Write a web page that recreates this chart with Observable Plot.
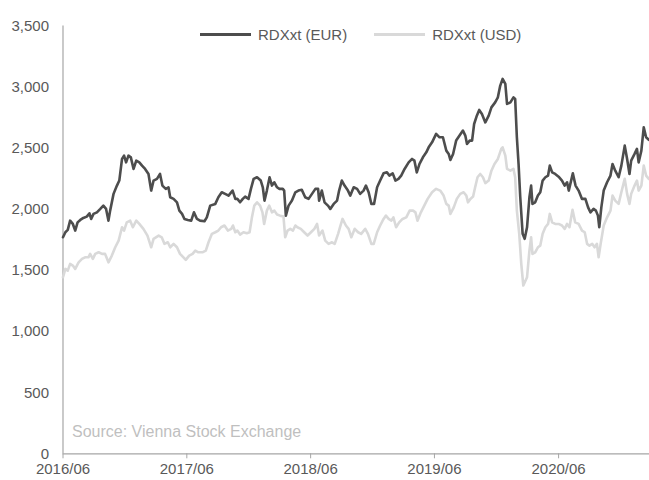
<!DOCTYPE html>
<html>
<head>
<meta charset="utf-8">
<script src="https://cdn.jsdelivr.net/npm/d3@7"></script>
<script src="https://cdn.jsdelivr.net/npm/@observablehq/plot@0.6"></script>
<style>
  html, body { margin: 0; padding: 0; background: #ffffff; }
  #wrap { position: relative; width: 649px; height: 480px; font-family: "Liberation Sans", Arial, sans-serif; }
  #legend { position: absolute; top: 26px; left: 200px; display: flex; align-items: center; font-size: 15px; color: #595959; white-space: nowrap; }
  .item { display: flex; align-items: center; margin-right: 27px; }
  .swatch { width: 51px; height: 3px; margin-right: 7px; }
  #source { position: absolute; left: 72px; top: 423px; font-size: 16px; color: #bfbfbf; white-space: nowrap; }
</style>
</head>
<body>
<div id="wrap">
  <div id="chart"></div>
  <div id="legend"></div>
  <div id="source">Source: Vienna Stock Exchange</div>
</div>
<script>
const seriesNames = ["RDXxt (EUR)", "RDXxt (USD)"];
const seriesColors = ["#4d4d4d", "#d9d9d9"];

const eurDates = ["2016-06-01","2016-06-08","2016-06-15","2016-06-22","2016-06-30","2016-07-07","2016-07-14","2016-07-22","2016-07-31","2016-08-10","2016-08-18","2016-08-23","2016-08-30","2016-09-09","2016-09-19","2016-09-28","2016-10-06","2016-10-13","2016-10-18","2016-10-28","2016-11-07","2016-11-14","2016-11-22","2016-11-28","2016-12-04","2016-12-11","2016-12-18","2016-12-26","2017-01-03","2017-01-12","2017-01-20","2017-01-29","2017-02-08","2017-02-16","2017-02-23","2017-03-05","2017-03-14","2017-03-21","2017-03-31","2017-04-08","2017-04-13","2017-04-23","2017-05-03","2017-05-10","2017-05-18","2017-05-25","2017-06-04","2017-06-14","2017-06-22","2017-07-01","2017-07-10","2017-07-23","2017-07-30","2017-08-09","2017-08-24","2017-09-02","2017-09-12","2017-09-22","2017-10-02","2017-10-14","2017-10-22","2017-10-28","2017-11-05","2017-11-13","2017-11-20","2017-11-30","2017-12-07","2017-12-15","2017-12-25","2018-01-05","2018-01-11","2018-01-16","2018-01-23","2018-01-31","2018-02-07","2018-02-14","2018-02-22","2018-03-01","2018-03-11","2018-03-15","2018-03-20","2018-03-28","2018-04-07","2018-04-17","2018-04-26","2018-05-06","2018-05-16","2018-05-26","2018-06-05","2018-06-15","2018-06-23","2018-06-26","2018-07-04","2018-07-12","2018-07-22","2018-07-29","2018-08-08","2018-08-18","2018-08-24","2018-09-01","2018-09-09","2018-09-19","2018-09-26","2018-10-06","2018-10-16","2018-10-25","2018-11-04","2018-11-11","2018-11-19","2018-11-27","2018-12-05","2018-12-14","2018-12-23","2019-01-02","2019-01-12","2019-01-19","2019-01-29","2019-02-06","2019-02-15","2019-02-23","2019-03-05","2019-03-17","2019-03-27","2019-04-03","2019-04-10","2019-04-18","2019-04-28","2019-05-08","2019-05-15","2019-05-25","2019-06-06","2019-06-16","2019-06-26","2019-07-06","2019-07-13","2019-07-18","2019-07-26","2019-08-04","2019-08-14","2019-08-24","2019-08-31","2019-09-05","2019-09-13","2019-09-20","2019-09-26","2019-10-04","2019-10-11","2019-10-19","2019-10-29","2019-11-08","2019-11-16","2019-11-27","2019-12-05","2019-12-12","2019-12-19","2019-12-27","2020-01-01","2020-01-11","2020-01-20","2020-01-25","2020-01-30","2020-02-04","2020-02-09","2020-02-16","2020-02-22","2020-02-29","2020-03-07","2020-03-12","2020-03-16","2020-03-24","2020-04-01","2020-04-08","2020-04-15","2020-04-23","2020-05-01","2020-05-06","2020-05-13","2020-05-22","2020-06-01","2020-06-11","2020-06-19","2020-06-26","2020-07-01","2020-07-13","2020-07-21","2020-07-30","2020-08-09","2020-08-19","2020-08-27","2020-09-03","2020-09-12","2020-09-19","2020-09-25","2020-09-29","2020-10-05","2020-10-12","2020-10-22","2020-11-01","2020-11-07","2020-11-15","2020-11-25","2020-12-03","2020-12-13","2020-12-20","2020-12-27","2021-01-01","2021-01-11","2021-01-18","2021-01-23","2021-01-31","2021-02-07","2021-02-14","2021-02-22"];
const eurValues = [1772,1813,1832,1908,1881,1827,1894,1914,1930,1941,1968,1922,1963,1976,2004,2031,2004,1908,1990,2127,2195,2236,2413,2440,2385,2440,2426,2331,2399,2385,2358,2331,2290,2154,2236,2250,2290,2195,2168,2181,2099,2086,2058,1990,1963,1922,1914,1908,1976,1922,1908,1903,1935,2031,2045,2099,2140,2127,2113,2154,2086,2086,2058,2086,2105,2086,2168,2250,2263,2236,2181,2072,2154,2263,2195,2222,2181,2168,2168,2154,1949,2031,2072,2140,2154,2160,2099,2086,2127,2168,2168,2072,2154,2058,2031,2004,2045,2072,2154,2236,2195,2154,2113,2181,2168,2127,2154,2195,2140,2045,2045,2181,2236,2295,2303,2277,2295,2236,2250,2277,2331,2385,2413,2399,2303,2372,2426,2467,2508,2549,2618,2590,2590,2481,2454,2405,2454,2563,2604,2645,2604,2536,2563,2563,2699,2767,2814,2781,2712,2767,2835,2876,2917,3013,3068,3027,2863,2876,2917,2904,2590,2372,2099,1800,1759,1854,2099,2195,2045,2058,2113,2140,2236,2263,2277,2358,2303,2290,2268,2236,2195,2222,2154,2295,2195,2154,2086,2086,2017,1976,2004,1990,1949,1854,2017,2154,2222,2277,2372,2317,2263,2358,2522,2413,2290,2399,2454,2495,2385,2481,2672,2590,2569];

const usdDates = ["2016-06-01","2016-06-08","2016-06-15","2016-06-22","2016-06-30","2016-07-07","2016-07-17","2016-07-27","2016-08-05","2016-08-15","2016-08-20","2016-08-28","2016-09-04","2016-09-14","2016-09-24","2016-10-03","2016-10-13","2016-10-23","2016-11-02","2016-11-12","2016-11-22","2016-11-28","2016-12-06","2016-12-16","2016-12-24","2017-01-03","2017-01-12","2017-01-24","2017-02-05","2017-02-16","2017-02-23","2017-03-10","2017-03-19","2017-03-27","2017-04-06","2017-04-13","2017-04-23","2017-05-03","2017-05-12","2017-05-22","2017-05-29","2017-06-08","2017-06-18","2017-06-26","2017-07-05","2017-07-17","2017-07-27","2017-08-04","2017-08-14","2017-08-24","2017-09-02","2017-09-10","2017-09-20","2017-09-30","2017-10-10","2017-10-15","2017-10-22","2017-10-28","2017-11-05","2017-11-15","2017-11-25","2017-12-03","2017-12-10","2017-12-17","2017-12-25","2018-01-03","2018-01-10","2018-01-15","2018-01-23","2018-01-30","2018-02-07","2018-02-14","2018-02-22","2018-03-03","2018-03-13","2018-03-18","2018-03-25","2018-04-02","2018-04-10","2018-04-17","2018-04-23","2018-05-03","2018-05-13","2018-05-23","2018-06-02","2018-06-12","2018-06-20","2018-06-26","2018-07-06","2018-07-14","2018-07-24","2018-08-03","2018-08-11","2018-08-21","2018-08-28","2018-09-03","2018-09-13","2018-09-21","2018-09-29","2018-10-09","2018-10-19","2018-10-28","2018-11-09","2018-11-17","2018-11-27","2018-12-04","2018-12-14","2018-12-23","2019-01-02","2019-01-09","2019-01-17","2019-01-25","2019-01-31","2019-02-08","2019-02-17","2019-02-27","2019-03-10","2019-03-20","2019-03-30","2019-04-06","2019-04-12","2019-04-22","2019-05-02","2019-05-12","2019-05-25","2019-06-06","2019-06-18","2019-06-28","2019-07-06","2019-07-13","2019-07-18","2019-07-28","2019-08-06","2019-08-16","2019-08-26","2019-09-03","2019-09-08","2019-09-15","2019-09-23","2019-09-29","2019-10-06","2019-10-14","2019-10-22","2019-10-29","2019-11-08","2019-11-16","2019-11-25","2019-12-05","2019-12-15","2019-12-19","2019-12-27","2020-01-01","2020-01-11","2020-01-20","2020-01-25","2020-01-30","2020-02-06","2020-02-12","2020-02-18","2020-02-29","2020-03-07","2020-03-12","2020-03-16","2020-03-24","2020-04-01","2020-04-08","2020-04-15","2020-04-23","2020-05-01","2020-05-06","2020-05-13","2020-05-22","2020-06-01","2020-06-11","2020-06-19","2020-06-26","2020-07-03","2020-07-12","2020-07-20","2020-07-30","2020-08-09","2020-08-17","2020-08-24","2020-08-31","2020-09-08","2020-09-15","2020-09-22","2020-09-27","2020-10-03","2020-10-12","2020-10-22","2020-11-01","2020-11-07","2020-11-15","2020-11-25","2020-12-03","2020-12-13","2020-12-20","2020-12-27","2021-01-01","2021-01-11","2021-01-18","2021-01-23","2021-01-31","2021-02-07","2021-02-14","2021-02-22"];
const usdValues = [1445,1513,1499,1554,1540,1513,1567,1595,1608,1608,1636,1595,1636,1649,1636,1636,1567,1622,1690,1745,1854,1827,1894,1908,1854,1908,1881,1841,1786,1690,1759,1786,1772,1718,1731,1690,1718,1690,1636,1608,1587,1622,1636,1663,1649,1649,1663,1731,1800,1813,1827,1854,1868,1827,1841,1868,1813,1827,1794,1813,1805,1813,1935,2031,2058,2031,1976,1881,1990,2031,1976,1990,1958,1949,1941,1772,1827,1841,1827,1868,1854,1841,1813,1786,1813,1841,1881,1786,1827,1745,1718,1731,1718,1800,1868,1922,1868,1841,1772,1841,1813,1800,1841,1800,1718,1718,1813,1868,1922,1949,1922,1908,1935,1854,1894,1922,1935,1990,1990,1976,1908,1976,2031,2086,2140,2168,2154,2113,2045,2031,1963,2017,2086,2127,2140,2113,2058,2086,2105,2181,2263,2290,2263,2215,2236,2317,2372,2413,2495,2508,2440,2331,2317,2331,2263,1990,1800,1554,1377,1445,1663,1772,1636,1649,1690,1704,1800,1854,1881,1963,1894,1881,1881,1868,1841,1881,1854,1996,1894,1881,1827,1813,1718,1704,1718,1690,1718,1608,1718,1868,1935,1990,2113,2072,2045,2140,2250,2127,2045,2127,2195,2236,2154,2195,2358,2277,2250];

const xDomain = ["2016-06-01", "2021-02-24"];
const xTickDates = ["2016-06-01", "2017-06-01", "2018-06-01", "2019-06-01", "2020-06-01"];
const xTickLabels = ["2016/06", "2017/06", "2018/06", "2019/06", "2020/06"];
const yTicks = [0, 500, 1000, 1500, 2000, 2500, 3000, 3500];
const yTickLabels = ["0", "500", "1,000", "1,500", "2,000", "2,500", "3,000", "3,500"];

const rows = [
  ...eurDates.map((d, i) => ({date: new Date(d), value: eurValues[i], series: seriesNames[0]})),
  ...usdDates.map((d, i) => ({date: new Date(d), value: usdValues[i], series: seriesNames[1]}))
];
const tickDates = xTickDates.map(d => new Date(d));
const axisColor = "#a6a6a6";

const chart = Plot.plot({
  width: 649,
  height: 480,
  marginLeft: 62.5,
  marginRight: 0,
  marginTop: 25.6,
  marginBottom: 26.7,
  style: {fontFamily: '"Liberation Sans", Arial, sans-serif', fontSize: "15px", color: "#595959", background: "#ffffff", overflow: "visible"},
  x: {type: "utc", domain: xDomain.map(d => new Date(d)), label: null},
  y: {domain: [0, 3500], label: null},
  color: {domain: seriesNames, range: seriesColors},
  marks: [
    Plot.axisY({ticks: yTicks, tickFormat: (d) => yTickLabels[yTicks.indexOf(d)], tickSize: 0, tickPadding: 14, fill: "#595959", fontSize: 15}),
    Plot.axisX({ticks: tickDates, tickFormat: (d) => xTickLabels[tickDates.findIndex(t => +t === +d)], tickSize: 5, tickPadding: 5, stroke: axisColor, fill: "#595959", fontSize: 15}),
    Plot.ruleY([0], {stroke: axisColor, strokeWidth: 1.2}),
    Plot.ruleX([tickDates[0]], {stroke: axisColor, strokeWidth: 1.2}),
    Plot.line(rows.filter(r => r.series === seriesNames[1]), {x: "date", y: "value", stroke: "series", strokeWidth: 2.6, strokeLinejoin: "round"}),
    Plot.line(rows.filter(r => r.series === seriesNames[0]), {x: "date", y: "value", stroke: "series", strokeWidth: 2.6, strokeLinejoin: "round"})
  ]
});
document.getElementById("chart").appendChild(chart);

const legend = document.getElementById("legend");
seriesNames.forEach((name, i) => {
  const item = document.createElement("div");
  item.className = "item";
  const sw = document.createElement("div");
  sw.className = "swatch";
  sw.style.background = seriesColors[i];
  const label = document.createElement("span");
  label.textContent = name;
  item.appendChild(sw);
  item.appendChild(label);
  legend.appendChild(item);
});
</script>
</body>
</html>
